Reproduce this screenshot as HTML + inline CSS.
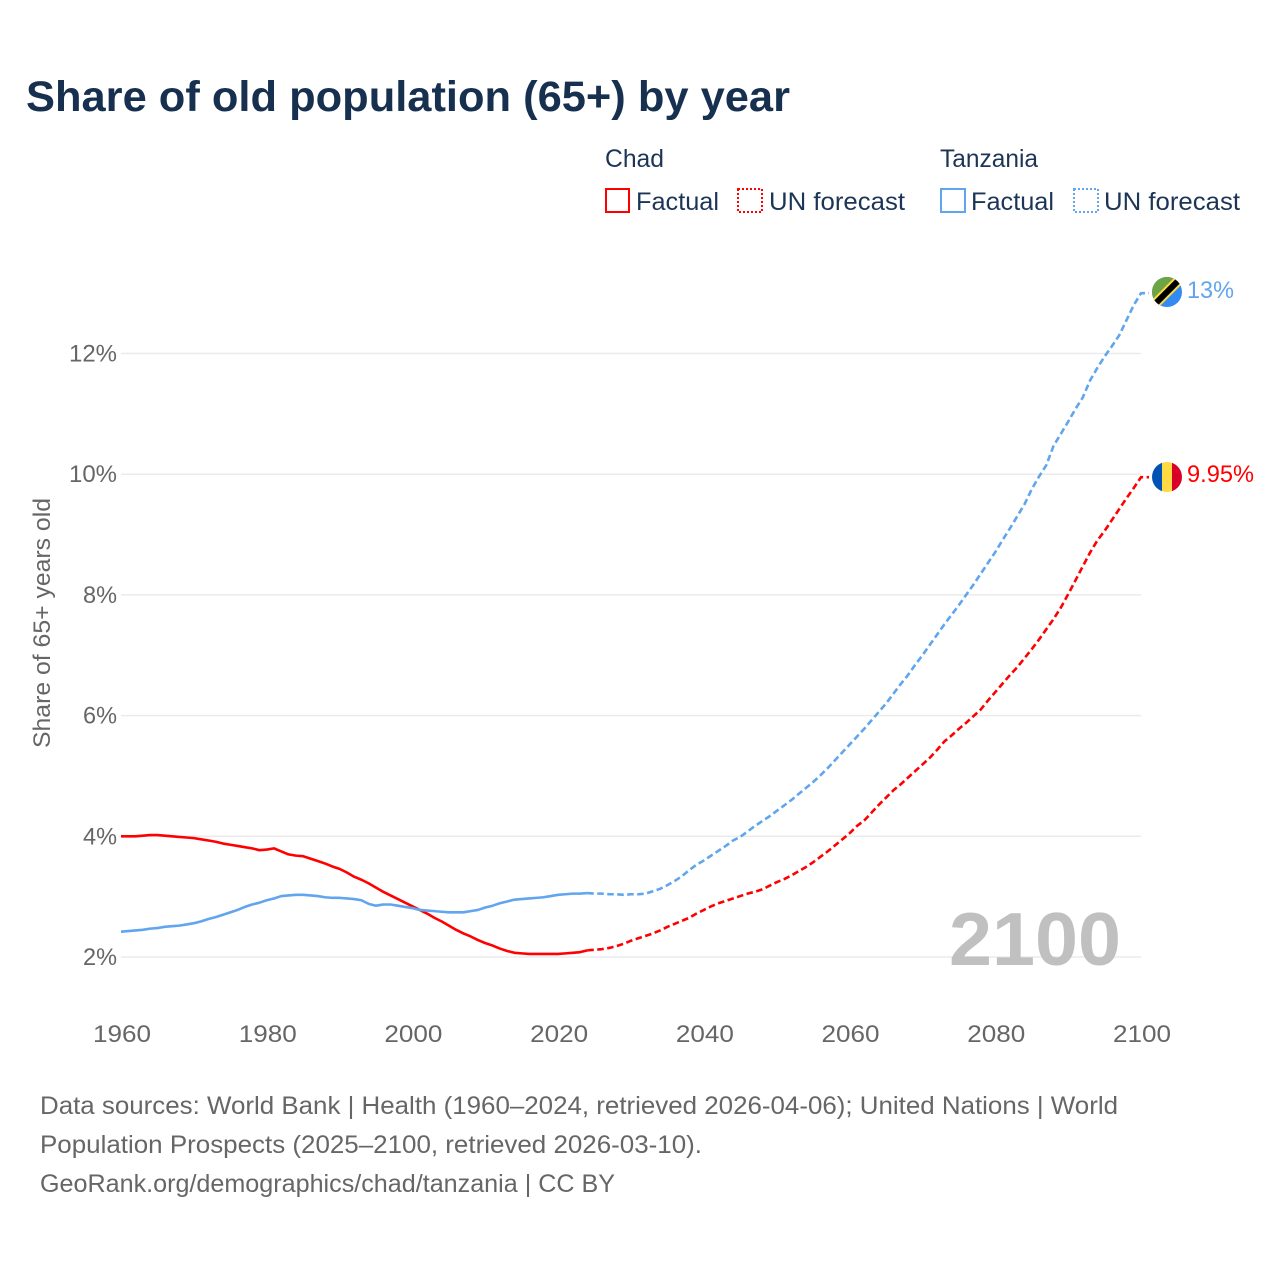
<!DOCTYPE html>
<html lang="en">
<head>
<meta charset="utf-8">
<title>Share of old population (65+) by year</title>
<style>
html,body{margin:0;padding:0;background:#fff;}
svg{display:block;}
text{font-family:"Liberation Sans",Arial,sans-serif;}
</style>
</head>
<body>
<svg id="chart" xmlns="http://www.w3.org/2000/svg" width="1280" height="1280" viewBox="0 0 1280 1280">
  <rect width="1280" height="1280" fill="#fff"/>
  <text x="26" y="111" font-size="43" font-weight="700" fill="#17304f" textLength="764" lengthAdjust="spacingAndGlyphs">Share of old population (65+) by year</text>

  <g font-size="25" fill="#1c3556">
    <text x="605" y="167" textLength="59" lengthAdjust="spacingAndGlyphs">Chad</text>
    <text x="940" y="167" textLength="98" lengthAdjust="spacingAndGlyphs">Tanzania</text>
    <rect x="606" y="189" width="23" height="23" fill="none" stroke="#ff0000" stroke-width="2"/>
    <text x="636" y="210" textLength="83" lengthAdjust="spacingAndGlyphs">Factual</text>
    <rect x="738" y="189" width="24" height="23" fill="none" stroke="#ff0000" stroke-width="2" stroke-dasharray="2 2"/>
    <text x="769" y="210" textLength="136" lengthAdjust="spacingAndGlyphs">UN forecast</text>
    <rect x="941" y="189" width="24" height="23" fill="none" stroke="#60a5ee" stroke-width="2"/>
    <text x="971" y="210" textLength="83" lengthAdjust="spacingAndGlyphs">Factual</text>
    <rect x="1074" y="189" width="24" height="23" fill="none" stroke="#60a5ee" stroke-width="2" stroke-dasharray="2 2"/>
    <text x="1104" y="210" textLength="136" lengthAdjust="spacingAndGlyphs">UN forecast</text>
  </g>

  <g id="grid"></g>
  <g id="yticks" font-size="24" fill="#666"></g>
  <g id="xticks" font-size="24" fill="#666"></g>
  <text transform="translate(50,748) rotate(-90)" font-size="24" fill="#666" textLength="250" lengthAdjust="spacingAndGlyphs">Share of 65+ years old</text>

  <text x="949" y="965" font-size="75" font-weight="700" fill="#c0c0c0" textLength="172" lengthAdjust="spacingAndGlyphs">2100</text>

  <g id="series"></g>

  <defs>
    <clipPath id="clip-tz"><circle cx="1167" cy="292" r="15"/></clipPath>
    <clipPath id="clip-td"><circle cx="1167" cy="477" r="15"/></clipPath>
  </defs>
  <g clip-path="url(#clip-tz)">
    <rect x="1152" y="277" width="30" height="30" fill="#338af3"/>
    <polygon points="1152,277 1182,277 1152,307" fill="#6da544"/>
    <line x1="1150" y1="309" x2="1184" y2="275" stroke="#ffda44" stroke-width="10"/>
    <line x1="1150" y1="309" x2="1184" y2="275" stroke="#000" stroke-width="6"/>
  </g>
  <g clip-path="url(#clip-td)">
    <rect x="1152" y="462" width="10" height="30" fill="#0052b4"/>
    <rect x="1162" y="462" width="10" height="30" fill="#ffda44"/>
    <rect x="1172" y="462" width="10" height="30" fill="#d80027"/>
  </g>
  <text x="1187" y="298" font-size="24" fill="#60a5ee" textLength="47" lengthAdjust="spacingAndGlyphs">13%</text>
  <text x="1187" y="482" font-size="24" fill="#ff0000" textLength="67" lengthAdjust="spacingAndGlyphs">9.95%</text>

  <g font-size="25" fill="#666">
    <text x="40" y="1114" textLength="1078" lengthAdjust="spacingAndGlyphs">Data sources: World Bank | Health (1960–2024, retrieved 2026-04-06); United Nations | World</text>
    <text x="40" y="1153" textLength="662" lengthAdjust="spacingAndGlyphs">Population Prospects (2025–2100, retrieved 2026-03-10).</text>
    <text x="40" y="1192" textLength="575" lengthAdjust="spacingAndGlyphs">GeoRank.org/demographics/chad/tanzania | CC BY</text>
  </g>
</svg>

<script>
const xTickYears = [1960, 1980, 2000, 2020, 2040, 2060, 2080, 2100];
const yTickValues = [2, 4, 6, 8, 10, 12];
const factualStartYear = 1960;
const forecastStartYear = 2024;

const chadFactual = [
  4.00,4.00,4.00,4.01,4.02,4.02,4.01,4.00,3.99,3.98,
  3.97,3.95,3.93,3.91,3.88,3.86,3.84,3.82,3.80,3.77,
  3.78,3.80,3.75,3.70,3.68,3.67,3.63,3.59,3.55,3.50,
  3.46,3.40,3.33,3.28,3.22,3.15,3.08,3.02,2.96,2.90,
  2.84,2.78,2.72,2.65,2.59,2.52,2.45,2.39,2.34,2.28,
  2.23,2.19,2.14,2.10,2.07,2.06,2.05,2.05,2.05,2.05,
  2.05,2.06,2.07,2.08,2.11
];
const chadForecast = [
  2.11,2.12,2.13,2.15,2.18,2.22,2.27,2.31,2.35,2.39,
  2.44,2.50,2.55,2.60,2.65,2.72,2.78,2.84,2.89,2.93,
  2.97,3.01,3.05,3.08,3.12,3.18,3.24,3.29,3.35,3.42,
  3.49,3.57,3.66,3.75,3.85,3.95,4.05,4.17,4.26,4.39,
  4.52,4.64,4.76,4.86,4.97,5.08,5.19,5.30,5.43,5.57,
  5.67,5.78,5.88,5.99,6.10,6.25,6.39,6.53,6.67,6.80,
  6.95,7.10,7.26,7.43,7.60,7.79,8.01,8.24,8.47,8.70,
  8.90,9.06,9.24,9.42,9.60,9.77,9.95
];
const tanzaniaFactual = [
  2.42,2.43,2.44,2.45,2.47,2.48,2.50,2.51,2.52,2.54,
  2.56,2.59,2.63,2.66,2.70,2.74,2.78,2.83,2.87,2.90,
  2.94,2.97,3.01,3.02,3.03,3.03,3.02,3.01,2.99,2.98,
  2.98,2.97,2.96,2.94,2.88,2.85,2.87,2.87,2.85,2.83,
  2.81,2.78,2.77,2.76,2.75,2.74,2.74,2.74,2.76,2.78,
  2.82,2.85,2.89,2.92,2.95,2.96,2.97,2.98,2.99,3.01,
  3.03,3.04,3.05,3.05,3.06
];
const tanzaniaForecast = [
  3.06,3.05,3.05,3.04,3.04,3.03,3.04,3.04,3.05,3.09,
  3.13,3.19,3.26,3.34,3.44,3.53,3.60,3.68,3.76,3.84,
  3.93,3.99,4.08,4.17,4.25,4.33,4.42,4.51,4.60,4.70,
  4.80,4.90,5.01,5.13,5.26,5.39,5.52,5.65,5.78,5.92,
  6.06,6.20,6.36,6.52,6.67,6.84,7.00,7.17,7.34,7.51,
  7.67,7.83,8.00,8.17,8.35,8.53,8.71,8.91,9.10,9.30,
  9.50,9.75,9.96,10.15,10.47,10.67,10.87,11.08,11.27,11.55,
  11.76,11.95,12.12,12.30,12.55,12.80,13.00
];

const NS = 'http://www.w3.org/2000/svg';
function xScale(year) { return 121 + (year - 1960) * (1020 / 140); }
function yScale(value) { return 957 - (value - 2) * 60.35; }
function make(tag, attrs, parent, text) {
  const el = document.createElementNS(NS, tag);
  for (const k in attrs) el.setAttribute(k, attrs[k]);
  if (text !== undefined) el.textContent = text;
  parent.appendChild(el);
  return el;
}

const gridGroup = document.getElementById('grid');
const yTickGroup = document.getElementById('yticks');
const xTickGroup = document.getElementById('xticks');
const seriesGroup = document.getElementById('series');

yTickValues.forEach(function (v) {
  const line = make('line', { x1: xScale(1960), x2: xScale(2100), y1: yScale(v), y2: yScale(v), stroke: '#ebebeb', 'stroke-width': 1.5 }, gridGroup);
  
  
  const label = v + '%';
  const t = make('text', { x: 117, y: yScale(v) + 8, 'text-anchor': 'end', textLength: label.length === 3 ? 48 : 34, lengthAdjust: 'spacingAndGlyphs' }, yTickGroup, label);
  
  
});

xTickYears.forEach(function (yr) {
  const t = make('text', { x: xScale(yr) + 1, y: 1042, 'text-anchor': 'middle', textLength: 58, lengthAdjust: 'spacingAndGlyphs' }, xTickGroup, String(yr));
  
  
});

function linePath(values, startYear, extendEnd) {
  let d = '';
  values.forEach(function (v, i) {
    d += (i ? 'L' : 'M') + xScale(startYear + i).toFixed(2) + ' ' + yScale(v).toFixed(2);
  });
  if (extendEnd) d += 'h8';
  return d;
}

function drawSeries(values, startYear, color, dashed, name, extendEnd) {
  const attrs = { d: linePath(values, startYear, extendEnd), fill: 'none', stroke: color, 'stroke-width': 2.6, 'stroke-linejoin': 'round' };
  if (dashed) attrs['stroke-dasharray'] = '6.5 3.5';
  const p = make('path', attrs, seriesGroup);
  
  
}

drawSeries(chadForecast, forecastStartYear, '#ff0000', true, 'chad-forecast-line', true);
drawSeries(tanzaniaForecast, forecastStartYear, '#60a5ee', true, 'tanzania-forecast-line', true);
drawSeries(chadFactual, factualStartYear, '#ff0000', false, 'chad-factual-line', false);
drawSeries(tanzaniaFactual, factualStartYear, '#60a5ee', false, 'tanzania-factual-line', false);
</script>
</body>
</html>
